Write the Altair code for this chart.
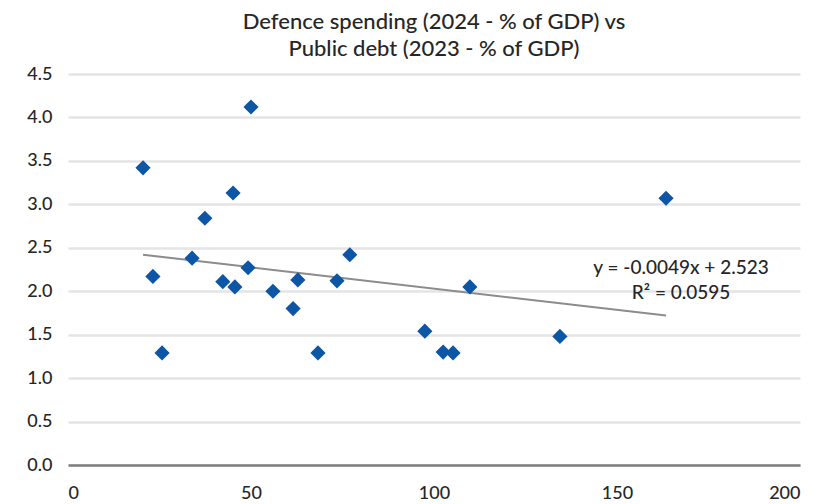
import altair as alt
import pandas as pd

# Public debt 2023 (% of GDP) and defence spending 2024 (% of GDP)
debt = [20.5, 23.2, 25.7, 33.9, 37.4, 42.3, 45.1, 45.6, 49.2, 50.0, 56.0,
        61.5, 62.8, 68.3, 73.5, 77.0, 97.5, 102.5, 105.2, 109.8, 134.4, 163.4]
defence = [3.42, 2.17, 1.29, 2.38, 2.84, 2.11, 3.13, 2.05, 2.27, 4.12, 2.00,
           1.80, 2.13, 1.29, 2.12, 2.42, 1.54, 1.30, 1.29, 2.05, 1.48, 3.07]

# Linear trendline endpoints
trend_x = [20.5, 163.4]
trend_y = [2.42, 1.72]

# Trendline equation labels
eq_text = ["y = -0.0049x + 2.523", "R² = 0.0595"]
eq_x = [167.5, 167.5]
eq_y = [2.27, 1.98]

title_lines = ["Defence spending (2024 - % of GDP) vs", "Public debt (2023 - % of GDP)"]

FONT = "Lato"
TEXT = "#262626"

pts = pd.DataFrame({"debt": debt, "defence": defence})
trend = pd.DataFrame({"debt": trend_x, "defence": trend_y})
eq = pd.DataFrame({"debt": eq_x, "defence": eq_y, "label": eq_text})

xscale = alt.Scale(domain=[0, 200], nice=False, zero=True)
yscale = alt.Scale(domain=[0, 4.5], nice=False, zero=True)

xaxis = alt.Axis(values=[0, 50, 100, 150, 200], title=None, grid=False, ticks=False,
                 labelPadding=19, labelFontSize=18, labelFont=FONT, labelColor=TEXT,
                 labelFontWeight=500,
                 domainColor="#7f7f7f", domainWidth=2.5, format="d")
yaxis = alt.Axis(values=[0, 0.5, 1, 1.5, 2, 2.5, 3, 3.5, 4, 4.5], title=None, grid=True,
                 gridColor="#e4e4e4", gridWidth=2.5, ticks=False, domain=False,
                 labelPadding=16, labelFontSize=18, labelFont=FONT, labelColor=TEXT,
                 labelFontWeight=500, format=".1f")

points = alt.Chart(pts).mark_point(shape="diamond", filled=True, size=230,
                                   color="#0D56A6", opacity=1).encode(
    x=alt.X("debt:Q", scale=xscale, axis=xaxis),
    y=alt.Y("defence:Q", scale=yscale, axis=yaxis),
)

line = alt.Chart(trend).mark_line(color="#8c8c8c", strokeWidth=2).encode(
    x=alt.X("debt:Q", scale=xscale),
    y=alt.Y("defence:Q", scale=yscale),
)

labels = alt.Chart(eq).mark_text(font=FONT, fontSize=19, color=TEXT, fontWeight=500,
                                 align="center", baseline="middle").encode(
    x=alt.X("debt:Q", scale=xscale),
    y=alt.Y("defence:Q", scale=yscale),
    text="label:N",
)

chart = alt.layer(line, points, labels).properties(
    width=732,
    height=391,
    title=alt.TitleParams(text=title_lines, font=FONT, fontSize=22, fontWeight=500,
                          color=TEXT, anchor="middle", lineHeight=27, offset=4),
    autosize=alt.AutoSizeParams(type="none"),
    padding={"left": 60, "top": 66, "right": 15, "bottom": 38},
).configure_view(stroke=None)

chart.save("out.html", embed_options={"renderer": "svg", "actions": False})
